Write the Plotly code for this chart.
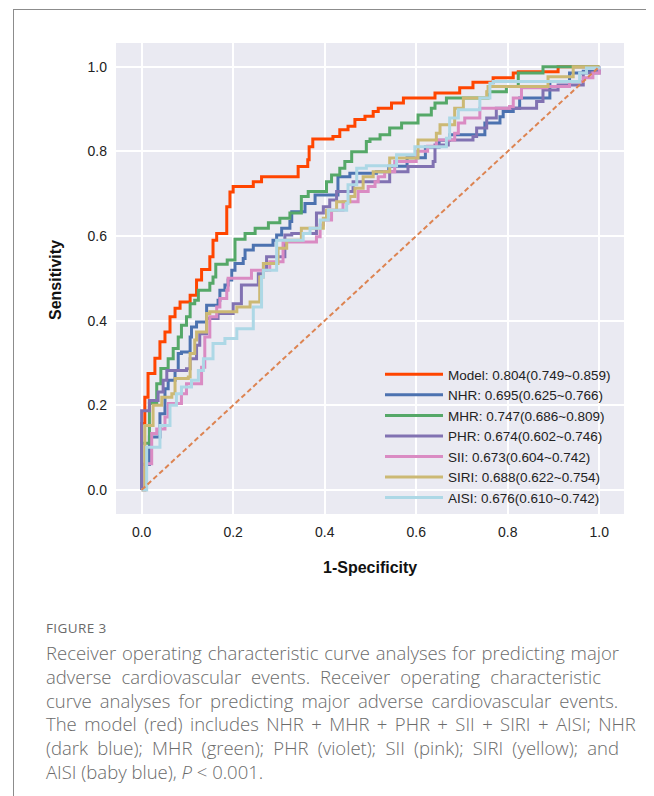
import plotly.graph_objects as go

# ---------------- data ----------------
model_x = [0, 0, 0.007, 0.014, 0.029, 0.040, 0.051, 0.062, 0.073, 0.084,
           0.106, 0.120, 0.131, 0.149, 0.156, 0.164, 0.186, 0.193, 0.200, 0.244,
           0.262, 0.342, 0.363, 0.366, 0.374, 0.418, 0.433, 0.451, 0.466, 0.488,
           0.506, 0.517, 0.546, 0.572, 0.641, 0.695, 0.724, 0.768, 0.812, 0.823,
           0.910, 1.0]
model_y = [0, 0.157, 0.219, 0.275, 0.311, 0.350, 0.373, 0.409, 0.429, 0.444,
           0.460, 0.496, 0.521, 0.551, 0.590, 0.606, 0.669, 0.704, 0.717, 0.728,
           0.740, 0.764, 0.780, 0.811, 0.829, 0.835, 0.851, 0.859, 0.875, 0.883,
           0.894, 0.902, 0.914, 0.926, 0.938, 0.950, 0.963, 0.974, 0.985, 0.988,
           1.0, 1.0]

nhr_x = [0, 0, 0.017, 0.040, 0.051, 0.058, 0.073, 0.080, 0.087, 0.106,
         0.109, 0.120, 0.142, 0.167, 0.171, 0.182, 0.189, 0.197, 0.204, 0.222,
         0.226, 0.244, 0.287, 0.295, 0.306, 0.324, 0.328, 0.357, 0.379, 0.429,
         0.455, 0.513, 0.54, 0.58, 0.62, 0.65, 0.673, 0.750, 0.783, 0.790,
         0.812, 0.826, 0.892, 0.935, 0.965, 0.994, 1.0]
nhr_y = [0, 0.06, 0.125, 0.180, 0.239, 0.259, 0.282, 0.322, 0.326, 0.361,
         0.385, 0.397, 0.436, 0.448, 0.472, 0.484, 0.496, 0.519, 0.535, 0.547,
         0.567, 0.578, 0.590, 0.602, 0.618, 0.634, 0.657, 0.677, 0.697, 0.740,
         0.748, 0.752, 0.765, 0.785, 0.810, 0.826, 0.839, 0.867, 0.882, 0.894,
         0.902, 0.926, 0.965, 0.985, 0.989, 0.993, 1.0]

mhr_x = [0, 0, 0.017, 0.033, 0.042, 0.058, 0.069, 0.080, 0.087, 0.098,
         0.106, 0.116, 0.124, 0.149, 0.156, 0.162, 0.187, 0.204, 0.226, 0.248,
         0.277, 0.302, 0.324, 0.349, 0.364, 0.404, 0.415, 0.433, 0.444, 0.459,
         0.491, 0.499, 0.521, 0.542, 0.568, 0.604, 0.633, 0.641, 0.666, 0.757,
         0.797, 0.823, 0.877, 1.0]
mhr_y = [0, 0.11, 0.204, 0.251, 0.287, 0.310, 0.334, 0.361, 0.389, 0.409,
         0.440, 0.448, 0.472, 0.488, 0.503, 0.533, 0.543, 0.592, 0.606, 0.618,
         0.631, 0.642, 0.654, 0.693, 0.705, 0.728, 0.744, 0.760, 0.776, 0.799,
         0.823, 0.829, 0.839, 0.855, 0.867, 0.886, 0.902, 0.914, 0.926, 0.941,
         0.953, 0.985, 1.0, 1.0]

phr_x = [0, 0, 0.017, 0.036, 0.047, 0.055, 0.098, 0.106, 0.120, 0.127,
         0.142, 0.167, 0.200, 0.218, 0.251, 0.255, 0.266, 0.273, 0.313, 0.328,
         0.382, 0.397, 0.411, 0.426, 0.462, 0.542, 0.582, 0.637, 0.641, 0.670,
         0.724, 0.732, 0.754, 0.775, 0.855, 0.863, 0.877, 0.910, 0.965, 1.0]
phr_y = [0, 0.187, 0.211, 0.231, 0.259, 0.282, 0.286, 0.310, 0.342, 0.369,
         0.405, 0.417, 0.440, 0.484, 0.484, 0.511, 0.519, 0.551, 0.602, 0.606,
         0.654, 0.669, 0.685, 0.705, 0.728, 0.752, 0.764, 0.776, 0.815, 0.827,
         0.835, 0.855, 0.879, 0.902, 0.902, 0.918, 0.945, 0.957, 0.985, 1.0]

sii_x = [0, 0.007, 0.022, 0.033, 0.051, 0.058, 0.087, 0.098, 0.131, 0.138,
         0.149, 0.164, 0.171, 0.186, 0.189, 0.240, 0.280, 0.309, 0.382, 0.390,
         0.397, 0.415, 0.440, 0.473, 0.495, 0.510, 0.517, 0.531, 0.553, 0.600,
         0.625, 0.644, 0.684, 0.692, 0.706, 0.739, 0.804, 0.812, 0.830, 0.885,
         0.935, 0.965, 0.986, 1.0]
sii_y = [0, 0.062, 0.133, 0.144, 0.172, 0.204, 0.227, 0.251, 0.290, 0.361,
         0.409, 0.432, 0.452, 0.472, 0.500, 0.519, 0.539, 0.586, 0.598, 0.626,
         0.638, 0.661, 0.681, 0.705, 0.717, 0.728, 0.740, 0.752, 0.776, 0.800,
         0.812, 0.827, 0.843, 0.867, 0.879, 0.902, 0.906, 0.926, 0.950, 0.953,
         0.965, 0.974, 0.985, 1.0]

siri_x = [0, 0.007, 0.025, 0.044, 0.066, 0.073, 0.102, 0.106, 0.116, 0.120,
          0.142, 0.149, 0.204, 0.208, 0.237, 0.258, 0.266, 0.298, 0.317, 0.349,
          0.397, 0.404, 0.426, 0.455, 0.466, 0.484, 0.506, 0.542, 0.604, 0.644,
          0.652, 0.684, 0.703, 0.754, 0.757, 0.826, 0.888, 0.943, 1.0]
siri_y = [0, 0.152, 0.200, 0.219, 0.227, 0.263, 0.267, 0.322, 0.354, 0.373,
          0.417, 0.421, 0.421, 0.432, 0.444, 0.503, 0.535, 0.571, 0.590, 0.618,
          0.642, 0.661, 0.681, 0.693, 0.713, 0.740, 0.752, 0.784, 0.827, 0.843,
          0.863, 0.902, 0.926, 0.941, 0.953, 0.953, 0.976, 1.0, 1.0]

aisi_x = [0, 0.003, 0.011, 0.040, 0.062, 0.076, 0.087, 0.109, 0.124, 0.135,
          0.156, 0.182, 0.208, 0.244, 0.262, 0.266, 0.295, 0.353, 0.368, 0.390,
          0.408, 0.448, 0.451, 0.470, 0.491, 0.557, 0.597, 0.666, 0.673, 0.692,
          0.739, 0.761, 0.768, 0.935, 0.957, 0.972, 1.0]
aisi_y = [0, 0.0, 0.101, 0.152, 0.200, 0.227, 0.243, 0.259, 0.282, 0.310,
          0.346, 0.358, 0.381, 0.432, 0.503, 0.519, 0.590, 0.606, 0.618, 0.638,
          0.661, 0.677, 0.721, 0.760, 0.766, 0.792, 0.811, 0.831, 0.879, 0.898,
          0.926, 0.961, 0.965, 0.965, 0.985, 0.997, 1.0]

series_names = ["Model: 0.804(0.749~0.859)", "NHR: 0.695(0.625~0.766)",
                "MHR: 0.747(0.686~0.809)", "PHR: 0.674(0.602~0.746)",
                "SII: 0.673(0.604~0.742)", "SIRI: 0.688(0.622~0.754)",
                "AISI: 0.676(0.610~0.742)"]
series_colors = ["#FF4500", "#4C72B0", "#55A868", "#8172B2",
                 "#DA8BC3", "#CCB974", "#ADD8E6"]
series_data = [(model_x, model_y), (nhr_x, nhr_y), (mhr_x, mhr_y),
               (phr_x, phr_y), (sii_x, sii_y), (siri_x, siri_y),
               (aisi_x, aisi_y)]

diag_x = [0, 1]
diag_y = [0, 1]

tick_vals = [0.0, 0.2, 0.4, 0.6, 0.8, 1.0]
tick_text = ["0.0", "0.2", "0.4", "0.6", "0.8", "1.0"]

caption_title = "FIGURE 3"
caption_lines = [
    "Receiver operating characteristic curve analyses for predicting major",
    "adverse cardiovascular events. Receiver operating characteristic",
    "curve analyses for predicting major adverse cardiovascular events.",
    "The model (red) includes NHR + MHR + PHR + SII + SIRI + AISI; NHR",
    "(dark blue); MHR (green); PHR (violet); SII (pink); SIRI (yellow); and",
    "AISI (baby blue), <i>P</i> &lt; 0.001.",
]
caption_wordspacing = [1.0, 5.2, 3.3, 2.6, 4.4, 0]

# ---------------- figure ----------------
# page coordinates of the reference (the html body adds an 8px margin)
OFF = 8
W, H = 654 - OFF, 796 - OFF
PL, PR, PT, PB = 116, 624, 43, 514
L, R, T, B = PL - OFF, PR - OFF, PT - OFF, PB - OFF


def px_x(p):
    return (p - OFF - L) / (R - L)


def px_y(p):
    return (B - (p - OFF)) / (B - T)


fig = go.Figure()
for (xs, ys), name, col in zip(series_data, series_names, series_colors):
    fig.add_trace(go.Scatter(x=xs, y=ys, mode="lines", name=name,
                             line=dict(color=col, width=3, shape="hv")))
fig.add_trace(go.Scatter(x=diag_x, y=diag_y, mode="lines", showlegend=False,
                         line=dict(color="#DD8452", width=2, dash="5px,3px")))

axis_common = dict(tickvals=tick_vals, ticktext=tick_text, showgrid=True,
                   gridcolor="white", gridwidth=1.5, zeroline=False,
                   showline=False, ticks="",
                   tickfont=dict(family="Arial, Liberation Sans", size=14,
                                 color="#222222"))
fig.update_xaxes(range=[-0.056, 1.054], ticklabelstandoff=8, **axis_common)
fig.update_yaxes(range=[-0.057, 1.056], ticklabelstandoff=8, **axis_common)

annotations = [
    dict(text="<b>1-Specificity</b>", x=px_x(370), y=px_y(567), xref="paper",
         yref="paper", showarrow=False, xanchor="center", yanchor="middle",
         font=dict(family="Arial, Liberation Sans", size=16, color="#111")),
    dict(text="<b>Sensitivity</b>", x=px_x(55), y=px_y(280), xref="paper",
         yref="paper", showarrow=False, xanchor="center", yanchor="middle",
         textangle=-90,
         font=dict(family="Arial, Liberation Sans", size=16, color="#111")),
    dict(text=f'<span style="letter-spacing:0.4px">{caption_title}</span>',
         x=px_x(44), y=px_y(628), xref="paper",
         yref="paper", showarrow=False, xanchor="left", yanchor="middle",
         font=dict(family="Open Sans", size=13.5, color="#6a6a6a")),
]
line_y = [652, 676, 700, 723.5, 747, 771]
for txt, yy, ws in zip(caption_lines, line_y, caption_wordspacing):
    annotations.append(dict(
        text=f'<span style="word-spacing:{ws}px">{txt}</span>',
        x=px_x(44), y=px_y(yy), xref="paper", yref="paper", showarrow=False,
        xanchor="left", yanchor="middle",
        font=dict(family="Open Sans", size=18.5, color="#6b6b6b", weight=300)))

shapes = [
    dict(type="line", xref="paper", yref="paper", x0=px_x(13), x1=px_x(660),
         y0=px_y(9.5), y1=px_y(9.5), line=dict(color="#8c8c8c", width=1)),
    dict(type="line", xref="paper", yref="paper", x0=px_x(13.5), x1=px_x(13.5),
         y0=px_y(9.5), y1=px_y(800), line=dict(color="#8c8c8c", width=1)),
]

fig.update_layout(
    width=W, height=H,
    margin=dict(l=L, r=W - R, t=T, b=H - B),
    paper_bgcolor="white", plot_bgcolor="#EAEAF2",
    showlegend=True,
    legend=dict(x=px_x(380), y=px_y(513), xanchor="left", yanchor="bottom",
                bgcolor="rgba(0,0,0,0)", itemwidth=58,
                font=dict(family="Arial, Liberation Sans", size=13.5,
                          color="#222222"),
                tracegroupgap=0),
    annotations=annotations, shapes=shapes,
)

fig.write_html("out.html")
